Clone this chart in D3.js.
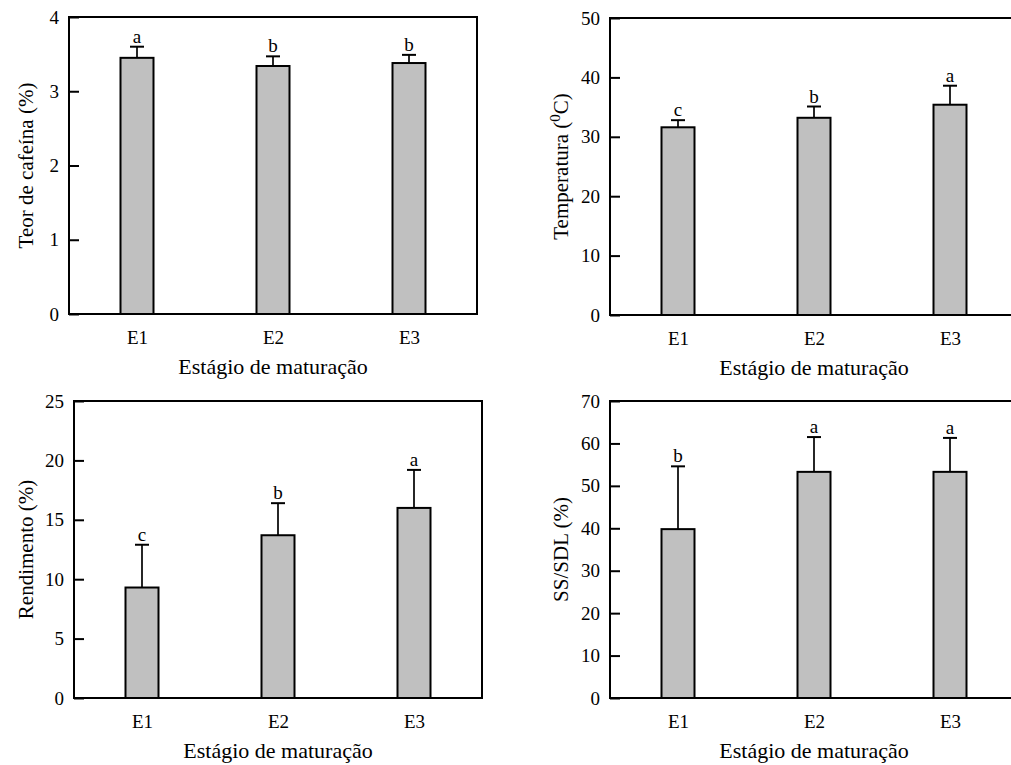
<!DOCTYPE html>
<html>
<head>
<meta charset="utf-8">
<script src="https://cdn.jsdelivr.net/npm/d3@7"></script>
<style>
  body { margin: 0; background: #fff; }
  text { font-family: "Liberation Serif", "Times New Roman", serif; fill: #000; }
</style>
</head>
<body>
<svg width="1011" height="765"></svg>
<script>
// maturation stages (x categories)
var stages = ["E1", "E2", "E3"];

// caffeine content (%)
var cafeina = [3.45, 3.34, 3.38],
    cafeinaErr = [0.15, 0.13, 0.11],
    cafeinaLetras = ["a", "b", "b"];

// temperature (C)
var temperatura = [31.6, 33.2, 35.4],
    temperaturaErr = [1.2, 1.9, 3.2],
    temperaturaLetras = ["c", "b", "a"];

// yield (%)
var rendimento = [9.3, 13.7, 16.0],
    rendimentoErr = [3.6, 2.7, 3.2],
    rendimentoLetras = ["c", "b", "a"];

// SS/SDL (%)
var sssdl = [39.8, 53.3, 53.3],
    sssdlErr = [14.8, 8.2, 8.0],
    sssdlLetras = ["b", "a", "a"];

// y tick labels
var ticksCafeina = [0, 1, 2, 3, 4],
    ticksTemperatura = [0, 10, 20, 30, 40, 50],
    ticksRendimento = [0, 5, 10, 15, 20, 25],
    ticksSssdl = [0, 10, 20, 30, 40, 50, 60, 70];

var xTitle = "Estágio de maturação";

// one entry per panel, built from the arrays above
var panels = [
    { left: 69,  top: 17,  values: cafeina, err: cafeinaErr, letters: cafeinaLetras,
      ticks: ticksCafeina, title: "Teor de cafeína (%)", titleX: 33 },
    { left: 610, top: 18,  values: temperatura, err: temperaturaErr, letters: temperaturaLetras,
      ticks: ticksTemperatura, title: null, titleX: 568 },
    { left: 74,  top: 401, values: rendimento, err: rendimentoErr, letters: rendimentoLetras,
      ticks: ticksRendimento, title: "Rendimento (%)", titleX: 33 },
    { left: 610, top: 401, values: sssdl, err: sssdlErr, letters: sssdlLetras,
      ticks: ticksSssdl, title: "SS/SDL (%)", titleX: 568 }
];

var svg = d3.select("svg"),
    width = 408,
    height = 297,
    barWidth = 33,
    capWidth = 14;

panels.forEach(function(p) {
    var g = svg.append("g").attr("transform", "translate(" + p.left + "," + p.top + ")");

    var x = d3.scalePoint().domain(stages).range([0, width]).padding(0.5),
        y = d3.scaleLinear()
              .domain([0, d3.max(p.ticks)])
              .range([height, 0]);

    // y axis, ticks pointing inward
    var ya = g.append("g")
        .call(d3.axisLeft(y).tickValues(p.ticks).tickFormat(d3.format("d"))
              .tickSizeInner(-10).tickSizeOuter(0).tickPadding(10));
    ya.select(".domain").remove();
    ya.selectAll("line").attr("stroke", "#000").attr("stroke-width", 2);
    ya.selectAll("text").style("font-size", "19px");

    // x axis labels
    var xa = g.append("g")
        .attr("transform", "translate(0," + height + ")")
        .call(d3.axisBottom(x).tickSize(0).tickPadding(17));
    xa.select(".domain").remove();
    xa.selectAll("text").style("font-size", "19px");

    var data = stages.map(function(s, i) {
        return { s: s, v: p.values[i], e: p.err[i], l: p.letters[i] };
    });

    // error bars (upper only)
    g.selectAll(".err").data(data).enter().append("line")
        .attr("x1", d => x(d.s)).attr("x2", d => x(d.s))
        .attr("y1", d => y(d.v)).attr("y2", d => y(d.v + d.e))
        .attr("stroke", "#000").attr("stroke-width", 1.7);
    g.selectAll(".cap").data(data).enter().append("line")
        .attr("x1", d => x(d.s) - capWidth / 2).attr("x2", d => x(d.s) + capWidth / 2)
        .attr("y1", d => y(d.v + d.e)).attr("y2", d => y(d.v + d.e))
        .attr("stroke", "#000").attr("stroke-width", 2);

    // bars
    g.selectAll(".bar").data(data).enter().append("rect")
        .attr("x", d => x(d.s) - barWidth / 2)
        .attr("y", d => y(d.v))
        .attr("width", barWidth)
        .attr("height", d => height - y(d.v))
        .attr("fill", "#c0c0c0")
        .attr("stroke", "#000")
        .attr("stroke-width", 2);

    // significance letters
    g.selectAll(".letter").data(data).enter().append("text")
        .attr("x", d => x(d.s))
        .attr("y", d => y(d.v + d.e) - 4)
        .attr("text-anchor", "middle")
        .style("font-size", "19px")
        .text(d => d.l);

    // frame
    g.append("rect")
        .attr("width", width).attr("height", height)
        .attr("fill", "none").attr("stroke", "#000").attr("stroke-width", 2);

    // x title
    g.append("text")
        .attr("x", width / 2)
        .attr("y", height + 60)
        .attr("text-anchor", "middle")
        .style("font-size", "22px")
        .text(xTitle);

    // y title
    var yt = svg.append("text")
        .attr("transform", "translate(" + p.titleX + "," + (p.top + height / 2) + ") rotate(-90)")
        .attr("text-anchor", "middle")
        .style("font-size", "21px");
    if (p.title) {
        yt.text(p.title);
    } else {
        yt.append("tspan").text("Temperatura (");
        yt.append("tspan").attr("dy", -8).style("font-size", "15px").text("0");
        yt.append("tspan").attr("dy", 8).text("C)");
    }
});
</script>
</body>
</html>
